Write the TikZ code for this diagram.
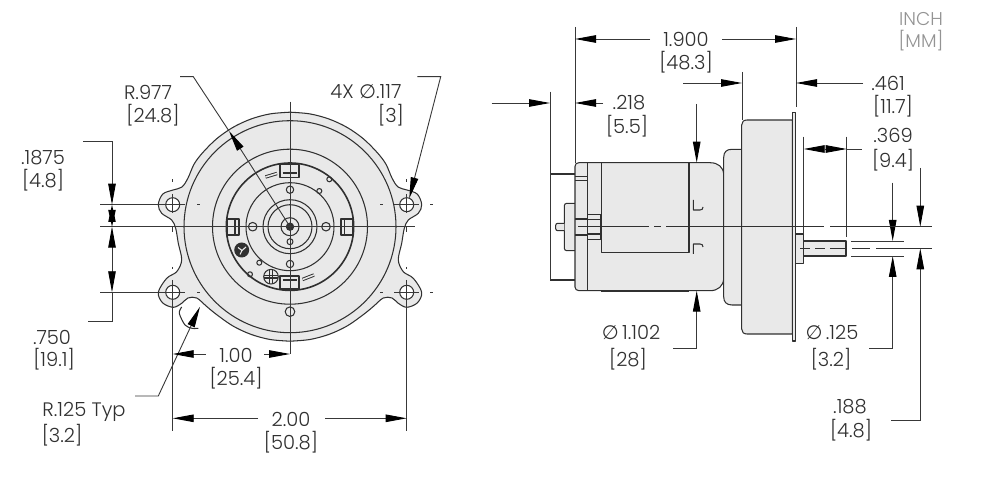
\documentclass[tikz,border=0pt]{standalone}
\usepackage{fontspec}
\setmainfont{Poppins Light}
\newfontfamily\symf{DejaVu Sans}
\usetikzlibrary{arrows.meta}
\definecolor{ink}{HTML}{303030}
\definecolor{dimc}{HTML}{383838}
\definecolor{body}{HTML}{E9E9E9}
\tikzset{
  x=1pt,y=-1pt,
  >={Triangle[length=21pt,width=7.5pt,color=black,fill=black]},
  outl/.style={draw=ink,line width=1.05pt,line join=round},
  thick body/.style={outl,line width=1.6pt},
  dimln/.style={draw=dimc,line width=0.9pt},
  axis/.style={draw=dimc,line width=0.95pt},
  lbl/.style={text=ink,inner sep=0pt,font=\fontsize{19.5}{22}\selectfont},
  unitlbl/.style={lbl,text=gray!85,font=\fontsize{18.5}{21}\selectfont},
}
\newcommand{\dia}{{\symf ∅}}
\newcommand{\halfpts}{(290,112.2) (309.9,113.9) (329.2,119.1) (347.25,127.5) (363.6,139) (377.7,153.1) (386,164.3) (392,178) (398,187) (407,190) (417.3,194.1) (421.7,204.7) (418.3,213.3) (408.3,220) (404.3,228.3) (401.7,243.3) (398.3,260) (403.3,271.7) (413.3,278.3) (421.7,292.3) (417.3,302.9) (406.7,307.3) (398.3,303.3) (392,298) (383.3,298) (373.3,306.5) (363.6,314.4) (347.25,325.9) (329.2,334.3) (309.9,339.5) (290,341.2)}
\begin{document}
\begin{tikzpicture}
\useasboundingbox (0,0) rectangle (1005,478);
\fill[white] (0,0) rectangle (1005,478);

% ---------- front view ----------
\begin{scope}
  \fill[body] plot[smooth,tension=.55] coordinates {\halfpts} -- cycle;
  \draw[outl] plot[smooth,tension=.55] coordinates {\halfpts};
\end{scope}
\begin{scope}[shift={(580pt,0pt)},xscale=-1]
  \fill[body] plot[smooth,tension=.55] coordinates {\halfpts} -- cycle;
  \draw[outl] plot[smooth,tension=.55] coordinates {\halfpts};
\end{scope}
\coordinate (c) at (290,226.7);
\draw[outl] (c) circle (106);
\draw[outl] (c) circle (77.5);
\draw[thick body] (c) circle (63.7);
\draw[outl] (c) circle (44);
\draw[outl] (c) circle (27);
\draw[outl] (c) circle (22);
\draw[outl] (c) circle (9);
\fill[ink] (c) circle (4.2);
% tabs
\draw[outl] (280,164.5) rectangle (299,177.3);
\draw[outl] (280,276) rectangle (299,289);
\draw[thick body] (226.7,219.3) rectangle (238.7,235);
\draw[thick body] (341,219.3) rectangle (352.7,235);
\draw[outl] (235,219.3) -- (235,235);
\draw[outl] (344.5,219.3) -- (344.5,235);
\draw[ink,line width=1.6pt] (282.5,173.3) -- (296.5,173.3);
\draw[ink,line width=1.6pt] (282.5,280) -- (296.5,280);
% slots
\draw[ink,line width=3.4pt] (265.5,177) -- (277,173.5);
\draw[body,line width=1.5pt] (265.5,177) -- (277,173.5);
\draw[ink,line width=3.4pt] (302.5,279.5) -- (314,275);
\draw[body,line width=1.5pt] (302.5,279.5) -- (314,275);
% small circles
\draw[outl] (290,189.7) circle (3.7);
\draw[outl] (290,264) circle (3.7);
\draw[outl] (252.7,226.7) circle (4.3);
\draw[outl] (326,226.7) circle (4.3);
\draw[outl] (290,241.7) circle (3);
\draw[outl] (319.3,191) circle (2.5);
\draw[outl] (329.3,179.3) circle (2.5);
\draw[outl] (259.3,262.7) circle (2.5);
\draw[outl] (250,274.3) circle (2.5);
\draw[outl] (290,311.7) circle (4.8);
% logo
\fill[ink] (241.7,250) circle (7.5);
\draw[body,line width=1.1pt] (238,247.5) -- (242,250.5) -- (246,247) (242,250.5) -- (240,254.5);
% screw
\draw[outl,fill=body] (271,276.7) circle (7.3);
\draw[outl] (269.7,270) -- (269.7,283.4) (272.3,270) -- (272.3,283.4) (264.3,275.4) -- (277.7,275.4) (264.3,278) -- (277.7,278);
% mounting holes
\foreach \hx/\hy in {172.7/204.7,406.7/204.7,172.7/292.3,406.7/292.3}{
  \draw[outl,fill=white] (\hx,\hy) circle (7);
}
% centre lines, front view
\draw[axis] (100,226.7) -- (415,226.7);
\draw[axis] (290,101.7) -- (290,354);
\draw[axis] (100,204.7) -- (185,204.7) (197,204.7) -- (200,204.7) (380,204.7) -- (383,204.7) (394,204.7) -- (419.3,204.7) (430,204.7) -- (433,204.7);
\draw[axis] (100,292.3) -- (185,292.3) (197,292.3) -- (200,292.3) (380,292.3) -- (383,292.3) (394,292.3) -- (419.3,292.3) (430,292.3) -- (433,292.3);
\foreach \vx in {172.7,406.7}{
  \draw[axis] (\vx,179.3) -- (\vx,182) (\vx,194) -- (\vx,213) (\vx,227) -- (\vx,232) (\vx,267) -- (\vx,269.5) (\vx,280) -- (\vx,431);
}
% left dimensions
\draw[dimln] (83,141.7) -- (112,141.7) -- (112,182);
\draw[dimln,->] (112,180) -- (112,204.7);
\fill[black] (108.2,222) -- (112,204.7) -- (115.8,222) -- cycle;
\fill[black] (108.2,210) -- (112,226.7) -- (115.8,210) -- cycle;
\draw[dimln,->] (112,250) -- (112,226.7);
\draw[dimln] (112,248) -- (112,272);
\draw[dimln,->] (112,270) -- (112,292.3);
\draw[dimln] (112,292.3) -- (112,321.7) -- (88,321.7);
% R.977
\coordinate (r9a) at (180,76.7);
\coordinate (r9b) at (193.3,76.7);
\coordinate (r9t) at (229,131);
\draw[dimln] (r9a) -- (r9b) -- (r9t);
\draw[dimln,->] (c) -- (r9t);
% 4X
\coordinate (hta) at (417.3,76.7);
\coordinate (htb) at (440.7,76.7);
\coordinate (htt) at (409.3,198.3);
\draw[dimln,->] (hta) -- (htb) -- (htt);
% R.125
\draw[outl] plot[smooth] coordinates {(181.7,307) (179.3,313.3) (185,325) (192,328.3) (198.3,328.3)};
\coordinate (rta) at (135,396);
\coordinate (rtb) at (158.3,396);
\coordinate (rtt) at (200,306.7);
\draw[dimln,->] (rta) -- (rtb) -- (rtt);
% 1.00
\draw[dimln,->] (205.7,354) -- (172.7,354);
\draw[dimln,->] (264,354) -- (290,354);
% 2.00
\draw[dimln,->] (258,418.3) -- (172.7,418.3);
\draw[dimln,->] (325,418.3) -- (406.7,418.3);

% ---------- side view ----------
\draw[outl,fill=body,rounded corners=2.5pt] (575,203.3) -- (564.3,203.3) -- (564.3,250.7) -- (575,250.7);
\draw[outl,fill=body,rounded corners=2pt] (564.3,223.3) -- (555.7,223.3) -- (555.7,230.7) -- (564.3,230.7);
\draw[outl,fill=body] (579,162.7) -- (710,162.7) .. controls (718,162.7) and (723.7,167) .. (723.7,175) -- (723.7,278) .. controls (723.7,286) and (718,290.7) .. (710,290.7) -- (579,290.7) .. controls (576.5,290.7) and (575,289) .. (575,287) -- (575,166.5) .. controls (575,164) and (576.5,162.7) .. (579,162.7) -- cycle;
\draw[outl] (587.7,162.7) -- (587.7,290.7);
\draw[outl] (601.3,162.7) rectangle (689,252.3);
\draw[ink,line width=2pt] (601.3,290.7) -- (689,290.7);
\draw[ink,line width=1.6pt] (550,174) -- (575,174);
\draw[ink,line width=1.6pt] (550,280) -- (575,280);
\draw[outl] (575,176.7) -- (587.7,176.7) (575,180.5) -- (587.7,180.5);
\draw[outl] (575,219) -- (587.7,219) (575,235) -- (587.7,235);
\draw[outl] (587.7,214.3) rectangle (601,239.3);
\draw[ink,line width=1.8pt] (587.7,219.5) -- (601,219.5) (587.7,234.3) -- (601,234.3);
\draw[outl] (693.3,200) -- (693.3,210) -- (700,210) .. controls (702,210) and (703,209) .. (703,207);
\draw[outl] (693.3,254) -- (693.3,244) -- (700,244) .. controls (702,244) and (703,245) .. (703,247);
\draw[outl,fill=body] (741.7,149.3) -- (732,149.3) .. controls (726.5,149.3) and (723.7,152) .. (723.7,157.5) -- (723.7,296.8) .. controls (723.7,302) and (726.5,305) .. (732,305) -- (741.7,305);
\draw[outl,fill=body] (792.3,120) -- (747,120) .. controls (743.5,120) and (741.7,122) .. (741.7,125) -- (741.7,329) .. controls (741.7,332) and (743.5,334) .. (747,334) -- (792.3,334) -- cycle;
\draw[outl,fill=body] (792.3,112.3) rectangle (795.7,341);
\draw[outl,fill=body] (795.7,234) rectangle (803.3,263.3);
\draw[outl,fill=body] (803.3,241) rectangle (846,256);
\draw[ink,line width=1.8pt] (846,241) -- (846,256);
% extension lines
\draw[dimln] (550,91.7) -- (550,280);
\draw[dimln] (575,27) -- (575,162.7);
\draw[dimln] (796,27) -- (796,107);
\draw[dimln] (742,72) -- (742,120);
\draw[dimln] (803.7,136.7) -- (803.7,234);
\draw[dimln] (846.7,136.7) -- (846.7,237);
% 1.900
\draw[dimln,->] (650,39) -- (575,39);
\draw[dimln,->] (722,39) -- (796,39);
% .461
\draw[dimln,->] (683,83) -- (742,83);
\draw[dimln,->] (863,83) -- (796,83);
% .218
\draw[dimln,->] (491.7,103) -- (550,103);
\draw[dimln,->] (603,103) -- (575,103);
% .369
\draw[dimln,->] (826,149) -- (803.7,149);
\draw[dimln,->] (824,149) -- (846.7,149);
\draw[dimln] (846.7,149) -- (862,149);
% dia 1.102
\draw[dimln,->] (696.7,104) -- (696.7,162.7);
\draw[dimln,->] (673,348) -- (696.7,348) -- (696.7,290.7);
% dia .125
\draw[dimln,->] (892.7,182.7) -- (892.7,241);
\draw[dimln,->] (869,348) -- (892.7,348) -- (892.7,256);
% .188
\draw[dimln,->] (920.3,168) -- (920.3,226.7);
\draw[dimln,->] (891,420) -- (920.3,420) -- (920.3,248.3);
% centre lines, side view
\draw[ink,line width=1pt] (578,226.5) -- (649,226.5);
\draw[ink,line width=1pt] (654,226.5) -- (661,226.5);
\draw[ink,line width=1pt] (666,226.5) -- (824,226.5);
\draw[ink,line width=1pt] (830,226.5) -- (932,226.5);
\draw[ink,line width=1pt] (800,248.3) -- (810,248.3);
\draw[ink,line width=1pt] (815,248.3) -- (825,248.3);
\draw[ink,line width=1pt] (830,248.3) -- (845,248.3);
\draw[ink,line width=1pt] (852,248.3) -- (870,248.3);
\draw[ink,line width=1pt] (876,248.3) -- (932,248.3);
\draw[axis] (851,241) -- (904,241) (851,256) -- (904,256);

% ---------- labels ----------
\node[lbl] (t1) at (148,92) {R.977};
\node[lbl] (t2) at (153,115) {[24.8]};
\node[lbl] (t3) at (366,92) {4X \dia.117};
\node[lbl] (t4) at (391,115) {[3]};
\node[lbl] (t5) at (43,158) {.1875};
\node[lbl] (t6) at (43,180) {[4.8]};
\node[lbl] (t7) at (52,337) {.750};
\node[lbl] (t8) at (54,359) {[19.1]};
\node[lbl] (t9) at (236,355) {1.00};
\node[lbl] (t10) at (236,378) {[25.4]};
\node[lbl] (t11) at (84,412) {R.125 Typ};
\node[lbl] (t12) at (62,435) {[3.2]};
\node[lbl] (t13) at (291,419) {2.00};
\node[lbl] (t14) at (291,442) {[50.8]};
\node[lbl] (t15) at (686,39) {1.900};
\node[lbl] (t16) at (686,62) {[48.3]};
\node[lbl] (t17) at (888,83) {.461};
\node[lbl] (t18) at (893,106) {[11.7]};
\node[lbl] (t19) at (629,103) {.218};
\node[lbl] (t20) at (627,126) {[5.5]};
\node[lbl] (t21) at (893,135) {.369};
\node[lbl] (t22) at (893,160) {[9.4]};
\node[lbl] (t23) at (631,332) {\dia\,1.102};
\node[lbl] (t24) at (628,359) {[28]};
\node[lbl] (t25) at (832,332) {\dia\,.125};
\node[lbl] (t26) at (831,359) {[3.2]};
\node[lbl] (t27) at (850,407) {.188};
\node[lbl] (t28) at (851,430) {[4.8]};
\node[unitlbl] (t29) at (921,19) {INCH};
\node[unitlbl] (t30) at (921,41) {[MM]};
\end{tikzpicture}
\end{document}
